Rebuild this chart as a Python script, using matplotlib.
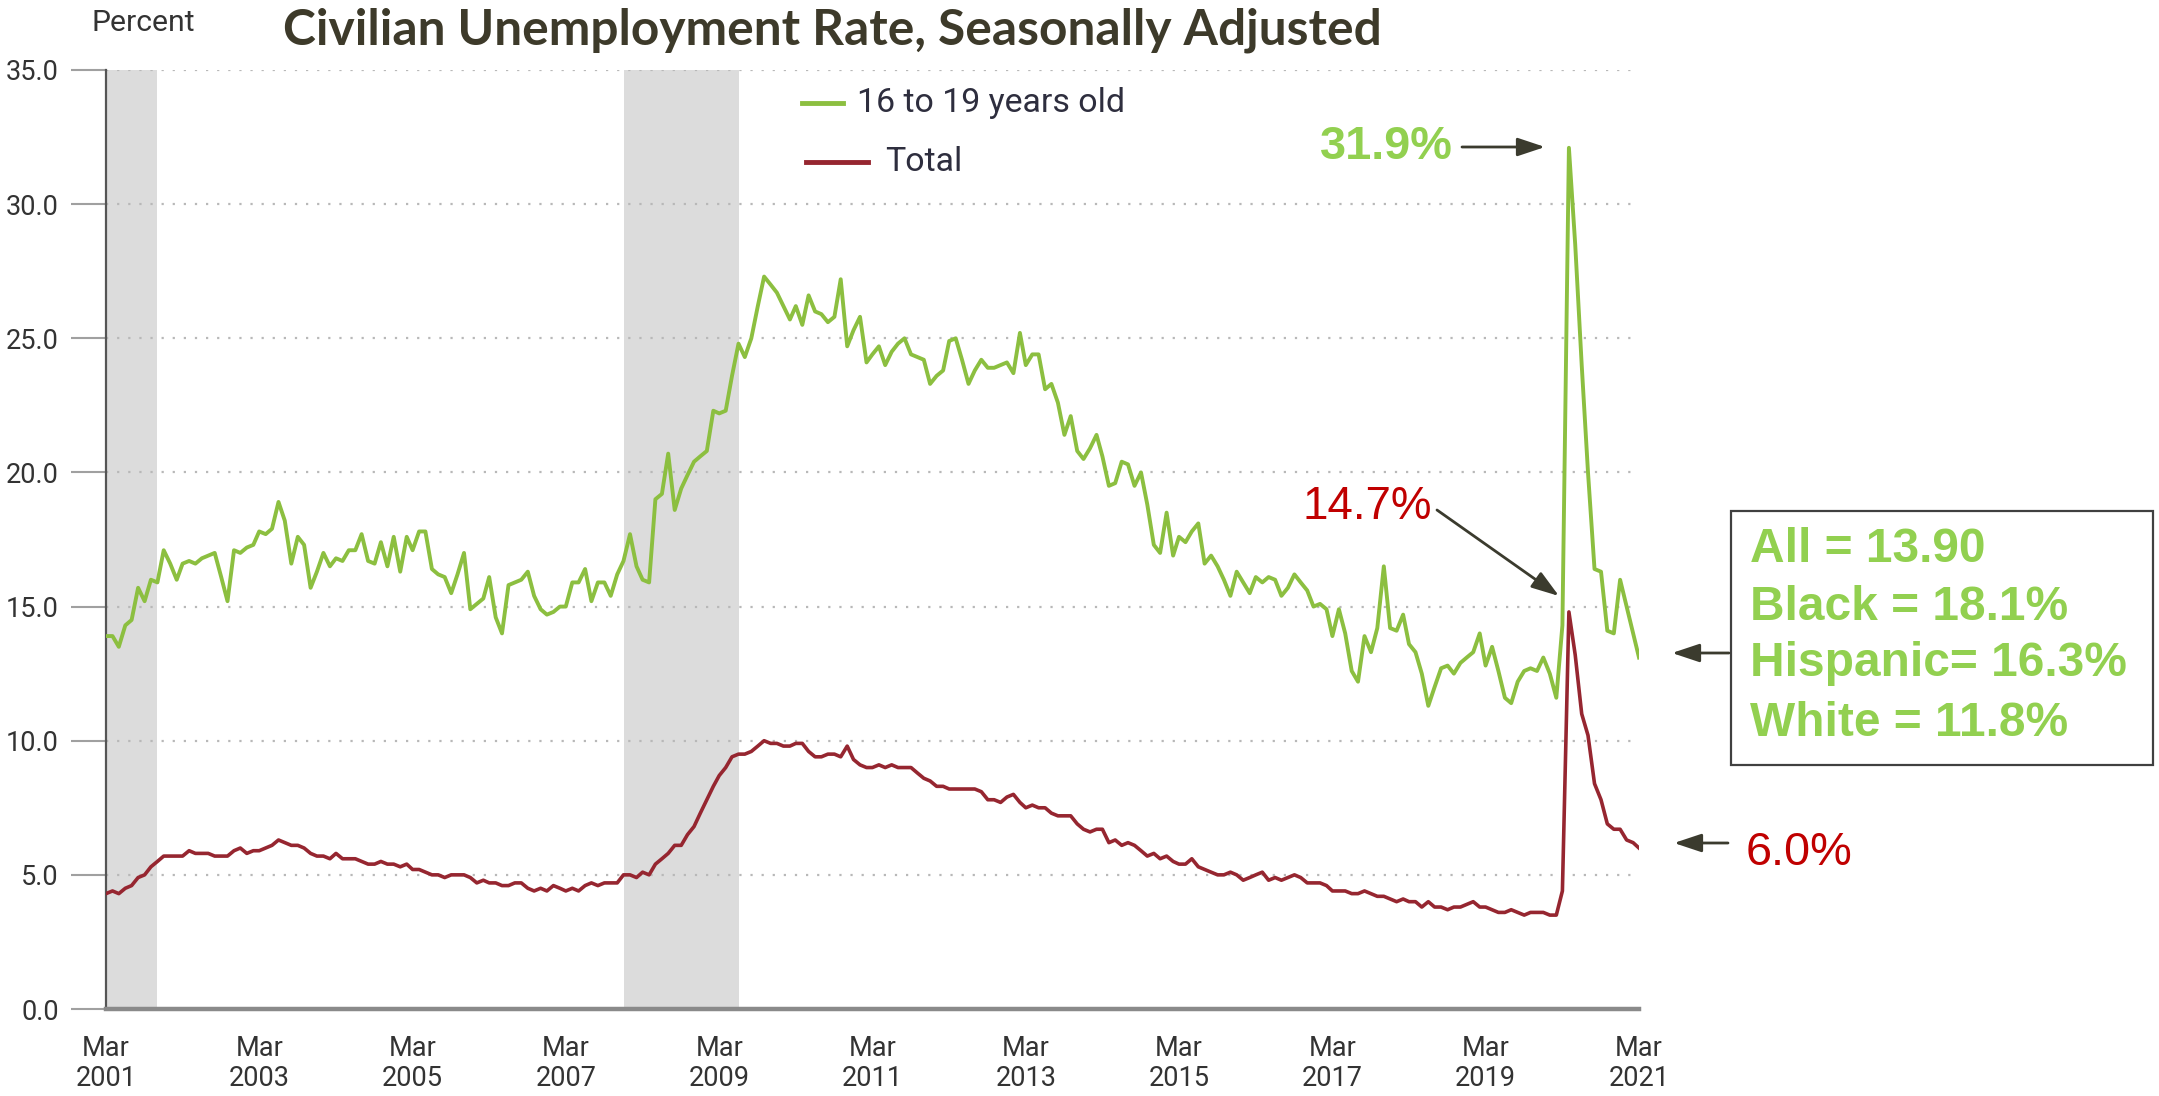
import matplotlib
matplotlib.use("Agg")
import matplotlib.pyplot as plt
import matplotlib.dates as mdates
from matplotlib.lines import Line2D
from matplotlib.patches import Rectangle, FancyArrowPatch
import pandas as pd

# ---------------- data ----------------
start_month = "2001-03-01"

teen_rate = [
    13.9, 13.9, 13.5, 14.3, 14.5, 15.7, 15.2, 16.0, 15.9, 17.1,
    16.6, 16.0, 16.6, 16.7, 16.6, 16.8, 16.9, 17.0, 16.1, 15.2,
    17.1, 17.0, 17.2, 17.3, 17.8, 17.7, 17.9, 18.9, 18.2, 16.6,
    17.6, 17.3, 15.7, 16.3, 17.0, 16.5, 16.8, 16.7, 17.1, 17.1,
    17.7, 16.7, 16.6, 17.4, 16.5, 17.6, 16.3, 17.6, 17.1, 17.8,
    17.8, 16.4, 16.2, 16.1, 15.5, 16.2, 17.0, 14.9, 15.1, 15.3,
    16.1, 14.6, 14.0, 15.8, 15.9, 16.0, 16.3, 15.4, 14.9, 14.7,
    14.8, 15.0, 15.0, 15.9, 15.9, 16.4, 15.2, 15.9, 15.9, 15.4,
    16.2, 16.7, 17.7, 16.5,
    16.0, 15.9, 19.0, 19.2, 20.7, 18.6, 19.4, 19.9, 20.4, 20.6,
    20.8, 22.3, 22.2, 22.3, 23.6, 24.8, 24.3, 25.0, 26.2, 27.3,
    27.0, 26.7, 26.2, 25.7, 26.2, 25.5, 26.6, 26.0, 25.9, 25.6,
    25.8, 27.2, 24.7, 25.3, 25.8, 24.1, 24.4, 24.7, 24.0, 24.5,
    24.8, 25.0, 24.4, 24.3, 24.2, 23.3, 23.6, 23.8, 24.9, 25.0,
    24.2, 23.3, 23.8, 24.2, 23.9, 23.9, 24.0, 24.1, 23.7, 25.2,
    24.0, 24.4, 24.4, 23.1, 23.3, 22.6, 21.4, 22.1, 20.8,
    20.5, 20.9, 21.4, 20.6, 19.5, 19.6, 20.4, 20.3, 19.5, 20.0,
    18.8, 17.3, 17.0, 18.5, 16.9, 17.6, 17.4, 17.8,
    18.1, 16.6, 16.9, 16.5, 16.0, 15.4, 16.3, 15.9, 15.5, 16.1,
    15.9, 16.1, 16.0, 15.4, 15.7, 16.2, 15.9, 15.6, 15.0, 15.1,
    14.9, 13.9, 14.9, 14.0, 12.6, 12.2, 13.9, 13.3, 14.2, 16.5,
    14.2, 14.1, 14.7, 13.6, 13.3, 12.5, 11.3, 12.0, 12.7, 12.8,
    12.5, 12.9, 13.1, 13.3, 14.0, 12.8, 13.5, 12.6, 11.6, 11.4,
    12.2, 12.6, 12.7, 12.6, 13.1, 12.5, 11.6, 14.3,
    32.1, 28.5, 24.0, 20.0, 16.4, 16.3, 14.1, 14.0, 16.0, 15.0,
    14.0, 13.1,
]

total_rate = [
    4.3, 4.4, 4.3, 4.5, 4.6, 4.9, 5.0, 5.3, 5.5, 5.7,
    5.7, 5.7, 5.7, 5.9, 5.8, 5.8, 5.8, 5.7, 5.7, 5.7, 5.9, 6.0,
    5.8, 5.9, 5.9, 6.0, 6.1, 6.3, 6.2, 6.1, 6.1, 6.0, 5.8, 5.7,
    5.7, 5.6, 5.8, 5.6, 5.6, 5.6, 5.5, 5.4, 5.4, 5.5, 5.4, 5.4,
    5.3, 5.4, 5.2, 5.2, 5.1, 5.0, 5.0, 4.9, 5.0, 5.0, 5.0, 4.9,
    4.7, 4.8, 4.7, 4.7, 4.6, 4.6, 4.7, 4.7, 4.5, 4.4, 4.5, 4.4,
    4.6, 4.5, 4.4, 4.5, 4.4, 4.6, 4.7, 4.6, 4.7, 4.7, 4.7, 5.0,
    5.0, 4.9, 5.1, 5.0, 5.4, 5.6, 5.8, 6.1, 6.1, 6.5, 6.8, 7.3,
    7.8, 8.3, 8.7, 9.0, 9.4, 9.5, 9.5, 9.6, 9.8, 10.0, 9.9, 9.9,
    9.8, 9.8, 9.9, 9.9, 9.6, 9.4, 9.4, 9.5, 9.5, 9.4, 9.8, 9.3,
    9.1, 9.0, 9.0, 9.1, 9.0, 9.1, 9.0, 9.0, 9.0, 8.8, 8.6, 8.5,
    8.3, 8.3, 8.2, 8.2, 8.2, 8.2, 8.2, 8.1, 7.8, 7.8, 7.7, 7.9,
    8.0, 7.7, 7.5, 7.6, 7.5, 7.5, 7.3, 7.2, 7.2, 7.2, 6.9, 6.7,
    6.6, 6.7, 6.7, 6.2, 6.3, 6.1, 6.2, 6.1, 5.9, 5.7, 5.8, 5.6,
    5.7, 5.5, 5.4, 5.4, 5.6, 5.3, 5.2, 5.1, 5.0, 5.0, 5.1, 5.0,
    4.8, 4.9, 5.0, 5.1, 4.8, 4.9, 4.8, 4.9, 5.0, 4.9, 4.7, 4.7,
    4.7, 4.6, 4.4, 4.4, 4.4, 4.3, 4.3, 4.4, 4.3, 4.2, 4.2, 4.1,
    4.0, 4.1, 4.0, 4.0, 3.8, 4.0, 3.8, 3.8, 3.7, 3.8, 3.8, 3.9,
    4.0, 3.8, 3.8, 3.7, 3.6, 3.6, 3.7, 3.6, 3.5, 3.6, 3.6, 3.6,
    3.5, 3.5, 4.4, 14.8, 13.2, 11.0, 10.2, 8.4, 7.8, 6.9, 6.7, 6.7,
    6.3, 6.2, 6.0,
]

recessions = [("2001-03-01", "2001-11-01"), ("2007-12-01", "2009-06-01")]
tick_years = list(range(2001, 2022, 2))
y_ticks = [0, 5, 10, 15, 20, 25, 30, 35]
series_names = ["16 to 19 years old", "Total"]
box_lines = ["All = 13.90", "Black = 18.1%", "Hispanic= 16.3%", "White = 11.8%"]
peak_teen_label = "31.9%"
peak_total_label = "14.7%"
last_total_label = "6.0%"

# ---------------- figure ----------------
W, H = 2159, 1096
fig = plt.figure(figsize=(W / 100, H / 100), dpi=100)
fig.patch.set_facecolor("white")
ax = fig.add_axes([106 / W, (H - 1009) / H, (1639 - 106) / W, 939 / H])

GREEN = "#8CBF40"
RED = "#962630"

d_teen = mdates.date2num(pd.date_range(start_month, periods=len(teen_rate), freq="MS"))
d_tot = mdates.date2num(pd.date_range(start_month, periods=len(total_rate), freq="MS"))

for a, b in recessions:
    ax.axvspan(mdates.date2num(pd.Timestamp(a)), mdates.date2num(pd.Timestamp(b)),
               color="#DCDCDC", lw=0, zorder=0)

for yv in y_ticks[1:]:
    ax.axhline(yv, color="#B8B8B8", lw=1.6, ls=(0, (1, 4)), zorder=1)

ax.plot(d_teen, teen_rate, color=GREEN, lw=2.8, zorder=3, solid_joinstyle="round")
ax.plot(d_tot, total_rate, color=RED, lw=2.6, zorder=4, solid_joinstyle="round")

x0 = mdates.date2num(pd.Timestamp("2001-03-01"))
x1 = mdates.date2num(pd.Timestamp("2021-03-01"))
ax.set_xlim(x0, x1)
ax.set_ylim(0, 35)

ax.set_yticks(y_ticks)
ax.set_yticklabels([f"{v:.1f}" for v in y_ticks], fontsize=19.5, family="Roboto", color="#333333")
ax.tick_params(axis="y", length=25, width=1.5, color="#A0A0A0", pad=9)
ax.set_xticks([mdates.date2num(pd.Timestamp(f"{y}-03-01")) for y in tick_years])
ax.set_xticklabels([f"Mar\n{y}" for y in tick_years], fontsize=19.5, family="Roboto",
                   color="#333333", linespacing=1.12)
ax.tick_params(axis="x", length=0, pad=19)

for s in ["top", "right"]:
    ax.spines[s].set_visible(False)
ax.spines["left"].set_color("#555555")
ax.spines["left"].set_linewidth(1.6)
ax.spines["bottom"].set_color("#8A8A8A")
ax.spines["bottom"].set_linewidth(3.2)
ax.set_facecolor("white")

# ---------------- texts ----------------
def fpx(x, y_top):
    return (x / W, (H - y_top) / H)

fitted = []
t_title = fig.text(*fpx(832, 30), "Civilian Unemployment Rate, Seasonally Adjusted",
                   ha="center", va="center", fontsize=34, family="Lato", weight="bold",
                   color="#3D3A2A")
fitted.append((t_title, 1099))
t_pct = fig.text(*fpx(92, 23), "Percent", ha="left", va="center", fontsize=17,
                 family="Roboto", color="#333333")
fitted.append((t_pct, 104))

# legend
fig.add_artist(Line2D([802 / W, 843 / W], [(H - 103) / H] * 2, color=GREEN, lw=3.5,
                      transform=fig.transFigure))
fig.add_artist(Line2D([806 / W, 868 / W], [(H - 162) / H] * 2, color=RED, lw=3.5,
                      transform=fig.transFigure))
t_l1 = fig.text(*fpx(857, 103), series_names[0], ha="left", va="center", fontsize=22,
                family="Roboto", color="#2E2E3E")
t_l2 = fig.text(*fpx(885, 162), series_names[1], ha="left", va="center", fontsize=22,
                family="Roboto", color="#2E2E3E")

t_a1 = fig.text(*fpx(1320, 147), peak_teen_label, ha="left", va="center", fontsize=33,
                family="Liberation Sans", weight="bold", color="#92D050")
t_a2 = fig.text(*fpx(1302, 507), peak_total_label, ha="left", va="center", fontsize=33,
                family="Liberation Sans", color="#C00000")
t_a3 = fig.text(*fpx(1746, 853), last_total_label, ha="left", va="center", fontsize=33,
                family="Liberation Sans", color="#C00000")
fitted.append((t_a1, 133))
fitted.append((t_a2, 130))
fitted.append((t_a3, 107))

box_y = [549, 608, 664, 723]
box_texts = []
for s, yy in zip(box_lines, box_y):
    box_texts.append(fig.text(*fpx(1750, yy), s, ha="left", va="center", fontsize=34,
                              family="Liberation Sans", weight="bold", color="#92D050"))
fig.add_artist(Rectangle((1731 / W, (H - 765) / H), (2153 - 1731) / W, (765 - 511) / H,
                         transform=fig.transFigure, fill=False, ec="#404040", lw=1.6))

arrow_kw = dict(arrowstyle="-|>,head_length=1.2,head_width=0.4", color="#3B3B2E", lw=2,
                shrinkA=0, shrinkB=0)
for (xs, ys, xe, ye) in [(1462, 147, 1545, 147), (1437, 510, 1559, 596),
                          (1729, 653, 1672, 653), (1728, 843, 1674, 843)]:
    fig.add_artist(FancyArrowPatch(fpx(xs, ys), fpx(xe, ye), transform=fig.transFigure,
                                   mutation_scale=14, **arrow_kw))

# fit text widths
fig.canvas.draw()
r = fig.canvas.get_renderer()
for t, target in fitted:
    w = t.get_window_extent(r).width
    t.set_fontsize(t.get_fontsize() * target / w)
w = box_texts[2].get_window_extent(r).width
scale = 377 / w
for t in box_texts:
    t.set_fontsize(t.get_fontsize() * scale)
# legend: same size for both entries, sized between the two width fits
w_total = t_l2.get_window_extent(r).width
w_teen = t_l1.get_window_extent(r).width
size_total = 22 * 86 / w_total
size_teen = 22 * 238 / w_teen
leg_size = 0.5 * (size_total + size_teen)
t_l1.set_fontsize(leg_size)
t_l2.set_fontsize(leg_size)

fig.savefig("out.png", dpi=100, facecolor="white")
